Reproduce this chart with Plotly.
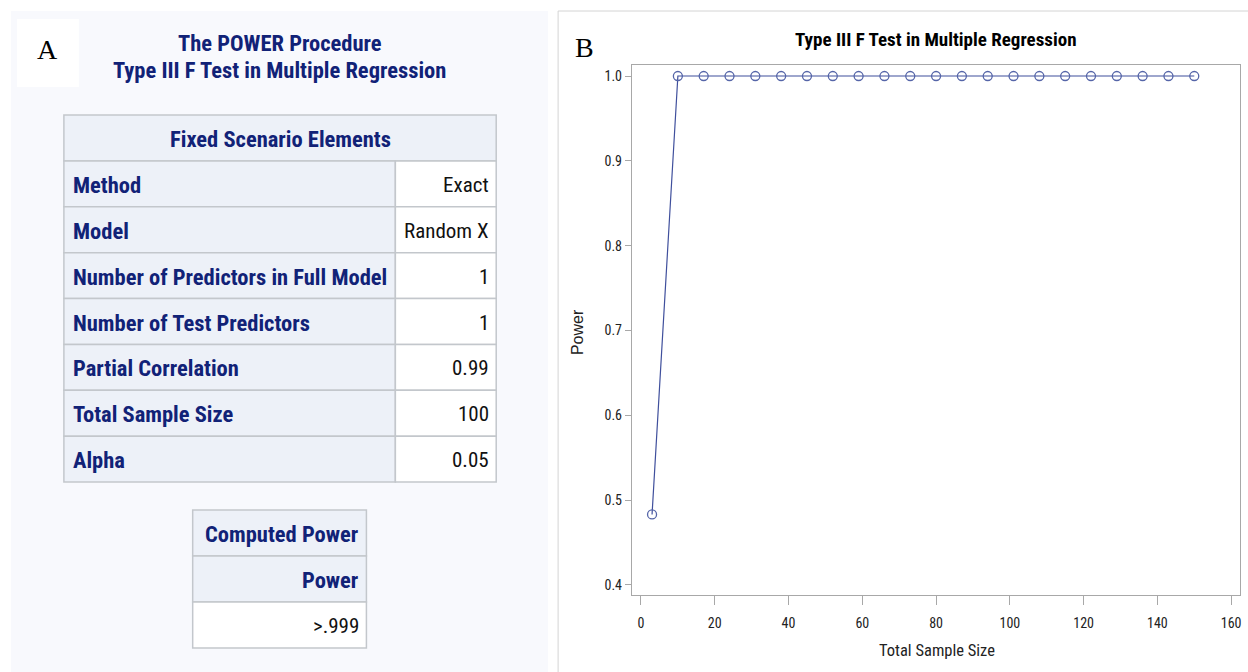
import plotly.graph_objects as go

# ---- Power curve data (PROC POWER, Type III F test) ----
sample_size = [3, 10, 17, 24, 31, 38, 45, 52, 59, 66, 73, 80, 87, 94, 101,
               108, 115, 122, 129, 136, 143, 150]
power = [0.483, 1.0, 1.0, 1.0, 1.0, 1.0, 1.0, 1.0, 1.0, 1.0, 1.0, 1.0, 1.0,
         1.0, 1.0, 1.0, 1.0, 1.0, 1.0, 1.0, 1.0, 1.0]

x_ticks = [0, 20, 40, 60, 80, 100, 120, 140, 160]
y_ticks = [0.4, 0.5, 0.6, 0.7, 0.8, 0.9, 1.0]

# ---- Tabular output ----
proc_titles = ["The POWER Procedure", "Type III F Test in Multiple Regression"]
scenario_header = "Fixed Scenario Elements"
scenario_labels = ["Method", "Model", "Number of Predictors in Full Model",
                   "Number of Test Predictors", "Partial Correlation",
                   "Total Sample Size", "Alpha"]
scenario_values = ["Exact", "Random X", "1", "1", "0.99", "100", "0.05"]
power_header = "Computed Power"
power_col = "Power"
power_value = ">.999"

W, H = 1248, 672
NAVY = "#112277"
CELL_BG = "#edf1f8"
BORDER = "#c3c7cc"
NARROW = "Liberation Sans Narrow, Arial Narrow, Roboto Condensed, sans-serif"
BOLD_SIZE = 22.5
VAL_SIZE = 21


def px(x):
    return x / W


def py(y):
    return 1 - y / H


shapes = []
annotations = []


def rect(x0, y0, x1, y1, fill, line=None, width=1):
    shapes.append(dict(type="rect", xref="paper", yref="paper",
                       x0=px(x0), x1=px(x1), y0=py(y1), y1=py(y0),
                       fillcolor=fill, layer="below",
                       line=dict(color=line or "rgba(0,0,0,0)", width=width if line else 0)))


def text(x, y, s, size, color, anchor="center", family=NARROW, weight="normal"):
    annotations.append(dict(xref="paper", yref="paper", x=px(x), y=py(y),
                            text=s, showarrow=False, xanchor=anchor, yanchor="middle",
                            font=dict(size=size, color=color, family=family, weight=weight)))


# panel backgrounds
rect(11, 11, 549, 672, "#f8f9fd")
rect(17, 19, 79, 87, "#ffffff")
rect(559, 11, 1260, 680, "#ffffff", line="#d4d4d4", width=1)

# panel letters
text(48, 50, "A", 28, "#000000", family="Liberation Serif, Times New Roman, serif")
text(585, 48, "B", 28, "#000000", family="Liberation Serif, Times New Roman, serif")

# procedure titles
text(280, 43, proc_titles[0], BOLD_SIZE, NAVY, weight="bold")
text(280, 70, proc_titles[1], BOLD_SIZE, NAVY, weight="bold")

# fixed scenario table
t_left, t_mid, t_right = 64, 396, 497
t_top, head_h = 115, 46
row_h = (482 - 161) / len(scenario_labels)
rect(t_left, t_top, t_right, t_top + head_h, CELL_BG, BORDER, 1.5)
text((t_left + t_right) / 2, t_top + head_h / 2 + 1, scenario_header, BOLD_SIZE, NAVY,
     weight="bold")
for i, (lab, val) in enumerate(zip(scenario_labels, scenario_values)):
    y0 = t_top + head_h + i * row_h
    y1 = y0 + row_h
    rect(t_left, y0, t_mid, y1, CELL_BG, BORDER, 1.5)
    rect(t_mid, y0, t_right, y1, "#ffffff", BORDER, 1.5)
    text(t_left + 7, (y0 + y1) / 2 + 1, lab, BOLD_SIZE, NAVY, anchor="left", weight="bold")
    text(t_right - 5, (y0 + y1) / 2 + 1, val, VAL_SIZE, "#111111", anchor="right")

# computed power table
p_left, p_right = 193, 367
p_rows = [(510, 556, power_header, CELL_BG, NAVY, "bold", BOLD_SIZE),
          (556, 602, power_col, CELL_BG, NAVY, "bold", BOLD_SIZE),
          (602, 648, power_value, "#ffffff", "#111111", "normal", VAL_SIZE)]
for y0, y1, s, bg, col, wt, sz in p_rows:
    rect(p_left, y0, p_right, y1, bg, BORDER, 1.5)
    text(p_right - 5, (y0 + y1) / 2 + 1, s, sz, col, anchor="right", weight=wt)

# chart title and axis titles
text(938, 39, "Type III F Test in Multiple Regression", 19, "#000000", weight="bold")
annotations.append(dict(xref="paper", yref="paper", x=px(578), y=py(332),
                        text="Power", showarrow=False, textangle=-90,
                        xanchor="center", yanchor="middle",
                        font=dict(size=16, color="#222222",
                                  family="Liberation Sans, Arial, sans-serif")))
text(939, 650, "Total Sample Size", 16.5, "#222222")

fig = go.Figure()
fig.add_trace(go.Scatter(
    x=sample_size, y=power, mode="lines+markers",
    line=dict(color="#3f4f9c", width=1.2),
    marker=dict(symbol="circle-open", size=9,
                line=dict(color="#5565a8", width=1.3), color="#5565a8"),
    showlegend=False, hoverinfo="x+y",
))

axis_common = dict(showgrid=False, zeroline=False, showline=True, linecolor="#a8a8a8",
                   linewidth=1.3, mirror=True, ticks="outside",
                   tickcolor="#a8a8a8", tickwidth=1.3,
                   tickfont=dict(size=14, color="#222222", family=NARROW))

fig.update_layout(
    width=W, height=H,
    margin=dict(l=0, r=0, t=0, b=0),
    paper_bgcolor="#ffffff", plot_bgcolor="#ffffff",
    shapes=shapes, annotations=annotations,
    xaxis=dict(domain=[px(633), px(1242)], range=[-2.44, 162.4],
               tickvals=x_ticks, ticktext=[str(v) for v in x_ticks],
               ticklabelstandoff=6, ticklen=9, **axis_common),
    yaxis=dict(domain=[py(595), py(65)], range=[0.388, 1.013],
               tickvals=y_ticks, ticktext=[f"{v:.1f}" for v in y_ticks],
               ticklen=6, **axis_common),
)

fig.write_html("out.html")
